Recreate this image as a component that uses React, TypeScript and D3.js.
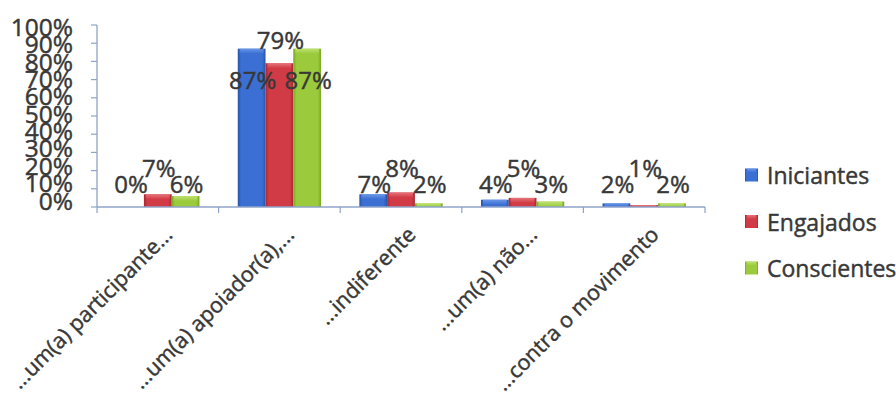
import React from "react";
import * as d3 from "d3";

const categories = [
  "...um(a) participante...",
  "...um(a) apoiador(a),...",
  "...indiferente",
  "...um(a) não...",
  "...contra o movimento",
];
const seriesNames = ["Iniciantes", "Engajados", "Conscientes"];
const iniciantes = [0, 87, 7, 4, 2];
const engajados = [7, 79, 8, 5, 1];
const conscientes = [6, 87, 2, 3, 2];
const yTicks = [0, 10, 20, 30, 40, 50, 60, 70, 80, 90, 100];

const seriesValues = [iniciantes, engajados, conscientes];
const colors = [
  { base: "#3b6fd3", light: "#6f9be8", dark: "#2853a8" },
  { base: "#d13b45", light: "#e87a80", dark: "#a8262f" },
  { base: "#9bcb3c", light: "#c3e47a", dark: "#78a826" },
];

const W = 896;
const H = 411;
const FONT = "'Open Sans', 'DejaVu Sans', sans-serif";
const TEXT = "#383838";
const AXIS = "#8fa3c8";

const textStyle = { stroke: TEXT, strokeWidth: 0.45 } as const;

export default function App() {
  const x0 = d3.scaleBand<string>().domain(categories).range([97, 705]).padding(0);
  const x1 = d3
    .scaleBand<string>()
    .domain(seriesNames)
    .range([0, x0.bandwidth()])
    .paddingInner(0)
    .paddingOuter(0.69);
  const y = d3.scaleLinear().domain([0, 100]).range([207, 25]);
  const yLabel = d3.scaleLinear().domain([0, 100]).range([y(0) - 7, y(100) + 1.5]);

  const legendY = d3.scalePoint<string>().domain(seriesNames).range([175, 268]);

  return (
    <svg
      width={W}
      height={H}
      style={{ position: "absolute", left: 0, top: 0, background: "#fff" }}
      fontFamily={FONT}
    >
      <defs>
        {colors.map((c, i) => (
          <React.Fragment key={i}>
            <linearGradient id={`g${i}`} x1="0" x2="1" y1="0" y2="0">
              <stop offset="0" stopColor={c.dark} />
              <stop offset="0.12" stopColor={c.base} />
              <stop offset="0.5" stopColor={c.base} />
              <stop offset="0.88" stopColor={c.base} />
              <stop offset="1" stopColor={c.dark} />
            </linearGradient>
            <linearGradient id={`t${i}`} x1="0" x2="0" y1="0" y2="1">
              <stop offset="0" stopColor={c.light} />
              <stop offset="1" stopColor={c.base} />
            </linearGradient>
          </React.Fragment>
        ))}
      </defs>

      {/* bars */}
      {categories.map((cat, ci) => (
        <g key={cat} transform={`translate(${x0(cat)},0)`}>
          {seriesNames.map((s, si) => {
            const v = seriesValues[si][ci];
            const bx = x1(s)!;
            const bw = x1.bandwidth();
            const top = y(v);
            const h = y(0) - top;
            const cap = Math.min(5, h);
            return (
              <g key={s}>
                <rect x={bx} y={top} width={bw} height={h} fill={`url(#g${si})`} />
                {h > 0 && (
                  <rect
                    x={bx + 2}
                    y={top}
                    width={bw - 4}
                    height={cap}
                    fill={`url(#t${si})`}
                    opacity={0.9}
                  />
                )}
              </g>
            );
          })}
        </g>
      ))}

      {/* axes */}
      <line x1={97} x2={97} y1={y(100)} y2={y(0)} stroke={AXIS} strokeWidth={1.3} />
      {yTicks.map((t) => (
        <line key={t} x1={91} x2={97} y1={y(t)} y2={y(t)} stroke={AXIS} strokeWidth={1.2} />
      ))}
      <line x1={97} x2={705} y1={y(0)} y2={y(0)} stroke={AXIS} strokeWidth={1.3} />
      {[...categories.map((c) => x0(c)!), 705].map((px, i) => (
        <line key={i} x1={px} x2={px} y1={y(0)} y2={y(0) + 6} stroke={AXIS} strokeWidth={1.2} />
      ))}

      {/* y tick labels */}
      {yTicks.map((t) => (
        <text
          key={t}
          x={73}
          y={yLabel(t)}
          textAnchor="end"
          dominantBaseline="central"
          fontSize={24.5}
          fill={TEXT}
          style={textStyle}
        >
          {t}%
        </text>
      ))}

      {/* data labels */}
      {categories.map((cat, ci) => {
        const redY = Math.min(y(engajados[ci]) - 24, y(0) - 40);
        const sideY = Math.min(redY + 40, y(0) - 24);
        return seriesNames.map((s, si) => {
          const v = seriesValues[si][ci];
          const cx = x0(cat)! + x1(s)! + x1.bandwidth() / 2 + 1;
          return (
            <text
              key={`${cat}-${s}`}
              x={cx}
              y={si === 1 ? redY : sideY}
              textAnchor="middle"
              dominantBaseline="central"
              fontSize={24}
              fill={TEXT}
              style={textStyle}
            >
              {v}%
            </text>
          );
        });
      })}

      {/* category labels */}
      {categories.map((cat) => {
        const px = x0(cat)! + x0.bandwidth() / 2 + 16;
        const py = 236;
        return (
          <text
            key={cat}
            transform={`translate(${px},${py}) rotate(-45)`}
            textAnchor="end"
            fontSize={21.5}
            fill={TEXT}
            style={textStyle}
          >
            {cat}
          </text>
        );
      })}

      {/* legend */}
      {seriesNames.map((s, si) => {
        const ly = legendY(s)!;
        return (
          <g key={s}>
            <rect x={745} y={ly - 6.5} width={13} height={13} fill={`url(#g${si})`} />
            <rect x={747} y={ly - 6.5} width={9} height={4} fill={`url(#t${si})`} opacity={0.9} />
            <text
              x={767}
              y={ly}
              dominantBaseline="central"
              fontSize={23}
              fill={TEXT}
              style={textStyle}
            >
              {s}
            </text>
          </g>
        );
      })}
    </svg>
  );
}
